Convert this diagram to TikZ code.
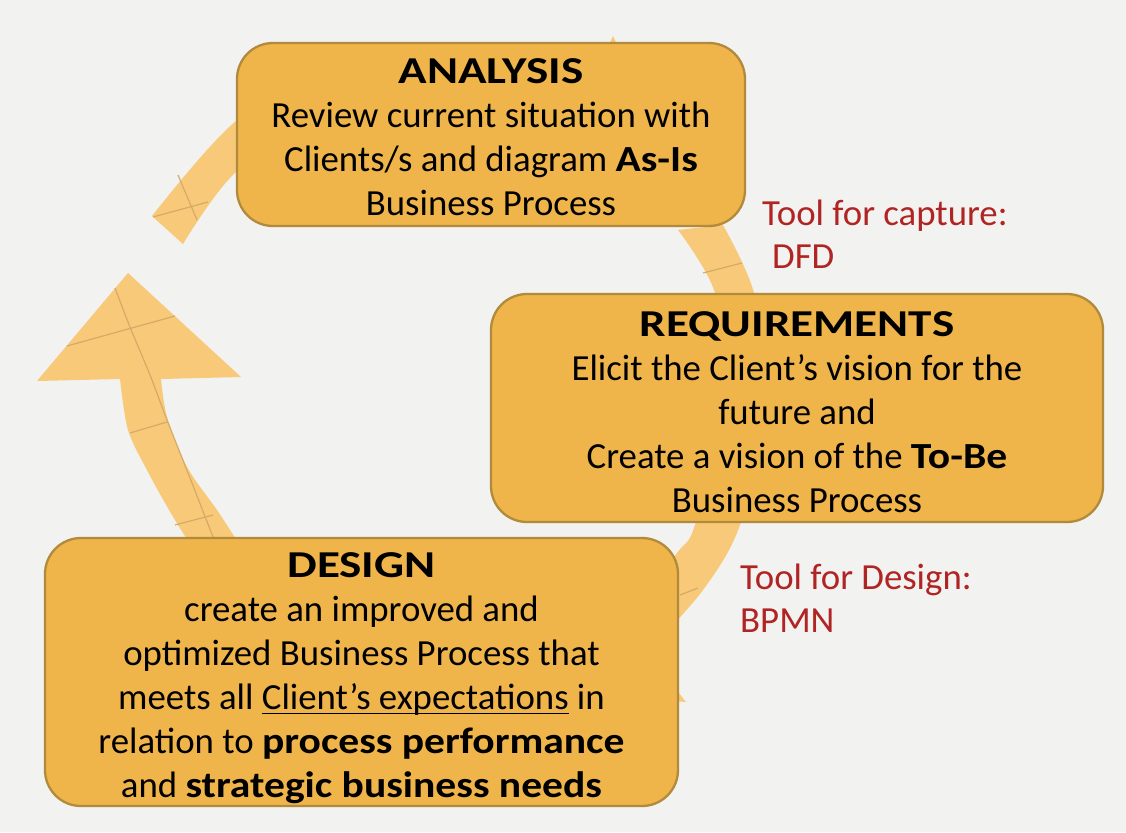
\documentclass[tikz,border=0pt]{standalone}
\usepackage{fontspec}
\setmainfont{Carlito}
\newfontfamily\hfont[FakeStretch=1.24]{Carlito}
\newfontfamily\bfont[FakeStretch=1.13]{Carlito}
\newcommand{\myul}[1]{\leavevmode\setbox0\hbox{#1}\rlap{\rule[-5pt]{\wd0}{1.8pt}}\box0\relax}
\newcommand{\hd}[2]{\rule{0pt}{#1pt}{\hfont\bfseries\fontsize{38}{44}\selectfont #2}}
\definecolor{bg}{RGB}{242,242,240}
\definecolor{boxfill}{RGB}{239,181,74}
\definecolor{boxedge}{RGB}{178,138,60}
\definecolor{arrowfill}{RGB}{247,201,120}
\definecolor{texline}{RGB}{214,170,105}
\definecolor{toolred}{RGB}{176,36,36}
\begin{document}
\begin{tikzpicture}[x=1pt,y=-1pt,
  box/.style={draw=boxedge, line width=2.3pt, fill=boxfill, rounded corners=36pt,
    align=center, inner sep=0pt, text=black, font=\fontsize{36.8}{44}\selectfont},
  arrowpart/.style={fill=arrowfill},
  tex/.style={draw=texline, line width=1.2pt},
  tool/.style={text=toolred, align=left, inner sep=0pt, anchor=north west,
    font=\fontsize{36.8}{43}\selectfont}]
\useasboundingbox (0,0) rectangle (1126,832);
\fill[bg] (0,0) rectangle (1126,832);

% left arrow (Design -> Analysis)
\fill[arrowpart] (128,273) -- (241,377) -- (161,379)
  -- plot[smooth] coordinates {(161,379) (167,417) (187,467) (217,510) (240,545) (262,575)}
  -- plot[smooth] coordinates {(215,585) (200,560) (172,515) (148,472) (128,430) (120,379)}
  -- (37,381) -- cycle;
% top arrow (Analysis -> Requirements)
\fill[arrowpart] (152,216) -- (183,244)
  -- plot[smooth] coordinates {(183,244) (235,173) (330,110) (450,95) (573,123)}
  -- (546,182) -- (665,149) -- (613,36) -- (590,87)
  -- plot[smooth] coordinates {(590,87) (450,55) (330,75) (235,122) (152,216)}
  -- cycle;
% right arrow (Requirements -> Design)
\fill[arrowpart] (678,230) -- (723,225)
  -- plot[smooth] coordinates {(723,225) (754,293) (769,400) (740,525) (703,590) (647,653)}
  -- (686,702) -- (565,693) -- (601,595) -- (622,622)
  -- plot[smooth] coordinates {(622,622) (677,553) (695,525) (728,400) (715,293) (678,230)}
  -- cycle;

% texture lines
\draw[tex] plot[smooth] coordinates {(115,288) (130,327) (150,375) (167,420) (190,478) (213,537)};
\draw[tex] (67,346) -- (175,316);
\draw[tex] (130,433) -- (167,422);
\draw[tex] (175,525) -- (213,515);
\draw[tex] (178,175) -- (197,220);
\draw[tex] (153,217) -- (208,202);
\draw[tex] (703,273) -- (742,263);
\draw[tex] (680,595) -- (698,588);

% boxes
\node[box, minimum width=508pt, minimum height=183pt] (analysis) at (491,134.5)
  {\hd{31}{ANALYSIS}\\Review current situation with\\Clients/s and diagram {\bfont\bfseries As-Is}\\Business Process};
\node[box, minimum width=612pt, minimum height=228pt] (req) at (797,408)
  {\hd{33}{REQUIREMENTS}\\Elicit the Client’s vision for the\\future and\\Create a vision of the {\bfont\bfseries To-Be}\\Business Process};
\node[box, minimum width=633pt, minimum height=268pt] (design) at (361.5,672)
  {\hd{37}{DESIGN}\\create an improved and\\optimized Business Process that\\meets all \myul{Client’s expectations} in\\relation to {\bfont\bfseries process performance}\\and {\bfont\bfseries strategic business needs}};

% tool labels
\node[tool] (captool) at (762,200) {Tool for capture:\\\hspace*{10pt}DFD};
\node[tool] (destool) at (740,564) {Tool for Design:\\BPMN};
\end{tikzpicture}
\end{document}
